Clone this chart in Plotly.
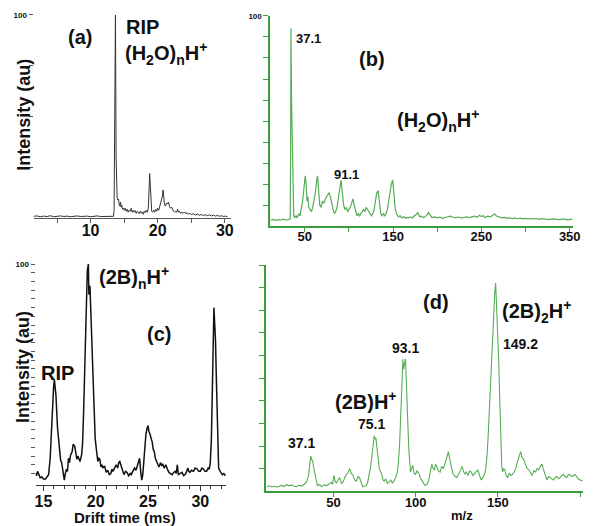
import plotly.graph_objects as go

W, H = 600, 526

# ---- (a) IMS spectrum, water RIP ----
drift_a = [1.5, 2.0, 2.5, 3.0, 3.5, 4.0, 4.5, 5.0, 5.5, 6.0, 6.5, 7.0, 7.5, 8.0, 8.5,
           9.0, 9.5, 10.0, 10.5, 11.0, 11.5, 12.0, 12.5, 13.0, 13.4, 13.5, 13.6, 13.7,
           13.8, 13.85, 13.95, 14.05, 14.15, 14.25, 14.35, 14.45, 14.55, 14.65, 14.75,
           14.85, 15.0, 15.15, 15.3, 15.45, 15.6, 15.75, 15.9, 16.05, 16.2, 16.35, 16.5,
           16.65, 16.8, 16.95, 17.1, 17.25, 17.4, 17.55, 17.7, 17.85, 18.0, 18.15, 18.3,
           18.45, 18.6, 18.7, 18.8, 18.9, 19.0, 19.1, 19.25, 19.4, 19.55, 19.7, 19.85,
           20.0, 20.15, 20.3, 20.45, 20.6, 20.7, 20.8, 20.9, 21.0, 21.15, 21.3, 21.45,
           21.6, 21.75, 21.9, 22.05, 22.2, 22.35, 22.5, 22.65, 22.8, 22.95, 23.1, 23.25,
           23.4, 23.6, 23.8, 24.0, 24.2, 24.4, 24.6, 24.8, 25.0, 25.3, 25.6, 25.9, 26.2,
           26.5, 26.8, 27.1, 27.4, 27.7, 28.0, 28.3, 28.6, 28.9, 29.2, 29.5, 29.8, 30.1, 30.4]
int_a = [1.0, 1.2, 0.8, 1.1, 0.9, 1.3, 0.8, 1.0, 1.2, 0.9, 1.1, 0.8, 1.0, 1.2, 0.9,
         1.0, 1.1, 0.8, 1.0, 1.2, 0.9, 1.0, 1.1, 0.9, 1.0, 4, 60, 100,
         30, 13, 10, 9, 9.5, 7, 6, 8, 5.5, 6.5, 4.5,
         5, 4, 5, 3.5, 4.5, 3, 4, 3.5, 5, 3, 4, 3,
         3.8, 2.5, 3.5, 3, 2.2, 3.5, 2.5, 3.2, 2, 3.5, 2.8, 4,
         3, 5, 12, 22, 16, 6, 3.5, 3, 4, 3, 4.5, 3.5,
         5, 4, 6, 7, 9, 11, 14, 10, 7, 6, 7.5, 7,
         8, 6, 5, 5.5, 4, 3.5, 3, 3.5, 3, 4.5, 3, 3.5,
         2.5, 3, 2.5, 3.2, 2.3, 2.8, 2, 2.5, 1.8, 2.3, 1.6, 2.1, 1.5,
         1.9, 1.4, 1.8, 1.3, 1.7, 1.2, 1.6, 1.1, 1.5, 1.0, 1.3, 0.9, 1.1, 0.8]

# ---- (b) mass spectrum, water clusters ----
mz_b = [11, 14, 17, 20, 23, 26, 29, 32, 33.5, 34.0, 34.3, 34.7, 35.0, 35.5, 36.0, 36.5,
        37.0, 37.5, 38.5, 40, 41.5, 43, 44.5, 46, 47.5, 49, 50.5, 51.5, 52.5, 53.5, 54.5,
        56, 57.5, 59, 60.5, 62, 63.5, 64.5, 65.5, 67, 68.5, 70, 71.5, 73, 74.5, 76, 77.5,
        79, 80.5, 82, 83.5, 85, 86.5, 88, 89.5, 91, 92.5, 94, 95.5, 97, 98.5, 100, 101.5,
        103, 104.5, 106, 107.5, 109, 110.5, 112, 113.5, 115, 116.5, 118, 119.5, 121, 122.5,
        124, 125.5, 127, 128.5, 130, 131.5, 133, 134.5, 136, 137.5, 139, 140.5, 142, 143.5,
        145, 146.5, 148, 149.5, 151, 152.5, 154, 156, 158, 160, 162, 164, 166, 168, 170,
        172, 174, 176, 178, 180, 182, 184, 186, 188, 190, 192, 194, 197, 200, 203, 206,
        209, 212, 215, 218, 221, 224, 227, 230, 233, 236, 239, 242, 245, 248, 250, 252,
        254, 257, 260, 263, 265, 267, 270, 273, 276, 279, 282, 285, 288, 291, 294, 297,
        300, 303, 306, 309, 312, 315, 318, 321, 324, 327, 330, 333, 336, 339, 342, 345,
        348, 351, 353]
int_b = [3.0, 3.3, 2.8, 3.2, 3.0, 3.4, 2.9, 3.2, 3.5, 40, 94, 75, 60, 47, 34, 18,
         8, 5, 4, 5, 4, 6, 5, 8, 12, 18, 24, 20, 12, 14, 9,
         8, 7, 9, 12, 16, 22, 24, 18, 10, 9, 12, 11, 13, 14, 15, 16,
         14, 10, 8, 6, 7, 9, 13, 19, 22, 16, 10, 8, 9, 7, 8, 9,
         11, 13, 10, 7, 5, 6, 5, 6, 7, 8, 7, 9, 8, 7,
         6, 5, 6, 8, 12, 16, 17, 12, 6, 5, 6, 5, 6, 8,
         12, 17, 20, 22, 16, 8, 6, 4.5, 5, 4, 4.5, 3.8, 4.2, 4, 4.5,
         4, 5, 5.5, 6.5, 4.5, 4.8, 4.2, 4.5, 5.2, 6.5, 5, 4.2, 4.5, 4, 4.3, 3.8,
         4.2, 4.4, 4.8, 4.3, 4.1, 4.4, 3.9, 4.2, 4.5, 4.1, 4.4, 4.8, 4.3, 5.2, 4.6, 5,
         4.2, 4.8, 4.5, 5.2, 5.8, 4.9, 4.3, 4, 4.2, 3.8, 4, 3.7, 4, 3.6, 3.9, 3.5,
         3.8, 3.5, 3.7, 3.4, 3.7, 3.3, 3.6, 3.4, 3.5, 3.2, 3.5, 3.3, 3.4, 3.2, 3.5, 3.3,
         3.1, 3.4, 3.2]

# ---- (c) IMS spectrum with analyte ----
drift_c = [14.25, 14.35, 14.45, 14.55, 14.7, 14.85, 15.0, 15.2, 15.35, 15.5, 15.65, 15.8,
           15.97, 16.05, 16.12, 16.2, 16.35, 16.55, 16.65, 16.75, 16.9, 17.0, 17.1, 17.2,
           17.3, 17.4, 17.5, 17.6, 17.75, 17.85, 18.0, 18.1, 18.2, 18.3, 18.4, 18.5, 18.65,
           18.75, 18.85, 18.95, 19.05, 19.15, 19.2, 19.3, 19.35, 19.45, 19.55, 19.7, 19.85,
           19.95, 20.1, 20.2, 20.3, 20.4, 20.5, 20.6, 20.7, 20.85, 21.0, 21.15, 21.3, 21.45,
           21.55, 21.65, 21.8, 21.96, 22.1, 22.2, 22.3, 22.4, 22.5, 22.6, 22.7, 22.85, 23.0,
           23.15, 23.3, 23.4, 23.55, 23.7, 23.85, 24.0, 24.1, 24.2, 24.3, 24.4, 24.5, 24.6,
           24.7, 24.8, 24.9, 25.0, 25.1, 25.2, 25.3, 25.4, 25.5, 25.6, 25.7, 25.8, 25.95,
           26.05, 26.2, 26.3, 26.4, 26.55, 26.7, 26.85, 27.0, 27.15, 27.3, 27.45, 27.6, 27.7,
           27.8, 27.9, 28.05, 28.25, 28.4, 28.55, 28.7, 28.8, 28.9, 29.0, 29.15, 29.35, 29.5,
           29.7, 29.85, 30.0, 30.15, 30.3, 30.45, 30.6, 30.75, 30.85, 30.95, 31.05, 31.12,
           31.2, 31.25, 31.3, 31.38, 31.45, 31.52, 31.6, 31.68, 31.75, 31.9, 32.0, 32.1,
           32.25, 32.4]
int_c = [4, 3, 5, 3.5, 2, 2.5, 1.5, 1.5, 2.5, 3.5, 11, 30,
         43, 47, 44, 40, 25, 12, 10, 9, 4.5, 1, 4, 6,
         5, 11, 9, 12.5, 14, 17.5, 16.5, 13, 10.5, 12, 11, 9.5, 12.5,
         18, 33, 52, 71, 90, 97, 100, 86, 90, 78, 57, 34,
         20, 12.5, 9.5, 11, 10.5, 7, 8, 6.5, 7.5, 4.5, 5.5, 3.5, 4,
         6, 5, 6.5, 8, 6.5, 9, 9.5, 8, 6.5, 5, 3.5, 5, 4.5,
         3, 4, 3.5, 5, 6.5, 5.5, 8, 9, 11, 5, 1, 3.5, 10,
         18.5, 22, 24.5, 26, 23, 22, 20, 18.5, 15, 14, 11, 9.5, 8,
         7, 9, 7.5, 8.5, 6.5, 8, 6, 4.5, 4, 3.5, 4.5, 5, 4,
         8, 3.5, 4, 4.5, 3, 3.5, 5, 6.5, 5, 4.5, 5.5, 5, 6.5,
         6, 5, 5, 6.5, 6, 5, 5, 6.5, 6, 9, 18.5, 35,
         57, 70, 80, 72, 65, 50, 34, 15, 6.5, 5, 4, 3.5,
         4, 3]

# ---- (d) mass spectrum with analyte ----
mz_d = [9.5, 11, 12.5, 14, 15.5, 17, 18.5, 20, 21.5, 23, 24.5, 26, 27.5, 29, 30.5, 32,
        33.5, 34.8, 35.5, 36.2, 36.8, 37.4, 38.1, 38.8, 39.5, 40.2, 41.5, 42.8, 44.3, 45.8,
        47.3, 48.8, 49.5, 50.2, 51, 51.8, 52.8, 53.8, 54.8, 55.8, 56.8, 57.8, 58.8, 59.8,
        60.8, 61.8, 62.8, 63.8, 64.8, 65.8, 66.8, 67.8, 68.8, 69.8, 70.8, 71.8, 72.6, 73.4,
        74.1, 74.8, 75.3, 75.8, 76.3, 76.8, 77.3, 77.8, 78.6, 79.4, 80.1, 80.8, 81.8, 82.8,
        83.8, 84.8, 85.8, 86.8, 87.8, 88.8, 89.5, 90.2, 90.8, 91.4, 92.2, 92.6, 93.0, 93.4,
        93.8, 94.2, 94.6, 95.2, 95.8, 96.3, 96.8, 97.5, 98.2, 99, 99.8, 100.8, 101.8, 102.8,
        103.8, 104.8, 105.8, 106.8, 107.8, 108.8, 109.8, 110.6, 111.4, 112.1, 112.8, 113.8,
        114.8, 115.8, 116.8, 117.8, 118.8, 119.8, 120.4, 121.0, 121.9, 122.8, 123.8, 124.8,
        125.8, 126.8, 127.5, 128.2, 129, 129.8, 130.8, 131.8, 132.8, 133.8, 134.8, 135.8,
        136.8, 137.8, 138.8, 139.8, 140.8, 141.8, 142.6, 143.4, 144.1, 144.8, 145.5, 146.2,
        146.8, 147.4, 148.0, 148.6, 149.0, 149.4, 149.8, 150.2, 150.6, 151.0, 151.4, 151.8,
        152.3, 152.8, 153.5, 154.2, 155, 155.8, 156.8, 157.8, 158.8, 159.8, 160.8, 161.8,
        162.8, 163.8, 164.6, 165.4, 166.1, 166.8, 167.8, 168.8, 169.8, 170.8, 171.8, 172.8,
        173.8, 174.8, 175.8, 176.8, 177.5, 178.2, 179, 179.8, 180.8, 181.8, 182.8, 183.8,
        184.8, 185.8, 186.8, 187.8, 188.8, 189.8, 190.8, 191.8, 192.8, 193.8, 195.3, 196.8,
        197.8, 198.8, 200, 201.5]
int_d = [2, 2.4, 1.9, 2.3, 1.8, 2.2, 2.6, 2.1, 3, 2.4, 2.8, 2.2, 2, 2.6, 2.3, 3,
         4, 7, 12, 15.5, 14, 13, 10, 7, 4, 2.5, 3, 2, 2.8, 2.5,
         3.2, 4, 3, 7, 4.5, 3.5, 5, 6, 3.5, 4, 6, 7.5, 8, 10,
         8, 7, 5, 4.5, 6.5, 6, 4, 2, 2.2, 2.5, 4, 7.5, 11, 16,
         21, 24.5, 23, 23.5, 20, 17.5, 14, 10, 9, 7.5, 5, 4.5, 5.5, 3.5,
         4, 5, 3.5, 5, 6, 8.5, 13, 21, 34, 47.5, 58.5, 54, 55, 57,
         58.5, 52, 43, 30, 18.5, 12, 8.5, 10, 11.5, 8, 7.5, 9, 8, 6,
         4.5, 3.5, 2.5, 3, 4.5, 8, 12, 10, 9.5, 12, 11, 9,
         8.5, 11, 10, 12, 14.5, 17.5, 15, 12, 10, 7.5, 6.5, 6,
         7, 8.5, 10, 11, 9, 7.5, 8.5, 7, 9, 8.5, 7, 8,
         9, 9.5, 7, 5, 6, 7.5, 10, 16, 25, 36, 48, 61,
         72, 80, 87, 92, 86, 80, 70, 66, 55, 43, 30, 18.5,
         11, 8.5, 10, 9.5, 7, 6, 8, 7, 7.5, 8.5, 10, 13,
         15, 17.5, 15, 14.5, 13, 12, 10, 9.5, 8, 7, 9, 8.5,
         10, 9.5, 11, 12, 10, 8.5, 6.5, 5, 6.5, 6, 5.5, 5,
         6, 6.5, 5.5, 6, 7, 7.5, 6.5, 6, 7.5, 7, 6.5, 7.5,
         6.5, 5.5, 5, 4.5]

FONT = "Arial, Liberation Sans, sans-serif"
GREEN_AX = "#3a9d3a"
GREEN_LN = "#55ad55"


def px_x(px):
    return px / W


def px_y(py):
    return 1 - py / H


fig = go.Figure()
fig.add_trace(go.Scatter(x=drift_a, y=int_a, mode="lines", line=dict(color="#333", width=1),
                         xaxis="x", yaxis="y"))
fig.add_trace(go.Scatter(x=mz_b, y=int_b, mode="lines", line=dict(color=GREEN_LN, width=1.2),
                         xaxis="x2", yaxis="y2"))
fig.add_trace(go.Scatter(x=drift_c, y=int_c, mode="lines", line=dict(color="#111", width=1.5),
                         xaxis="x3", yaxis="y3"))
fig.add_trace(go.Scatter(x=mz_d, y=int_d, mode="lines", line=dict(color=GREEN_LN, width=1.1),
                         xaxis="x4", yaxis="y4"))

tick_small = dict(family=FONT, size=8, color="#111", weight="bold")

fig.update_layout(
    width=W, height=H, margin=dict(l=0, r=0, t=0, b=0),
    paper_bgcolor="white", plot_bgcolor="white", showlegend=False,
    font=dict(family=FONT, color="#111"),
    # (a)
    xaxis=dict(domain=[px_x(33), px_x(233)], range=[1.5, 30.9], anchor="y",
               showline=True, linecolor="#555", linewidth=1, showgrid=False, zeroline=False,
               ticks="outside", ticklen=4, tickcolor="#555", ticklabelstandoff=-7,
               tickvals=[5, 10, 15, 20, 25, 30], ticktext=["", "10", "", "20", "", "30"],
               tickfont=dict(family=FONT, size=16, weight="bold")),
    yaxis=dict(domain=[px_y(216), px_y(11)], range=[0, 100], anchor="x",
               showline=False, showgrid=False, zeroline=False,
               ticks="outside", ticklen=4, tickcolor="#555",
               tickvals=[25, 50, 75, 100], ticktext=["", "", "", "100"], tickfont=tick_small),
    # (b)
    xaxis2=dict(domain=[px_x(273), px_x(580)], range=[11, 354], anchor="y2",
                showline=True, linecolor=GREEN_AX, linewidth=2, showgrid=False, zeroline=False,
                ticks="outside", ticklen=4, tickcolor=GREEN_AX, ticklabelstandoff=-7,
                tickvals=[50, 100, 150, 200, 250, 300, 350],
                ticktext=["50", "", "150", "", "250", "", "350"],
                tickfont=dict(family=FONT, size=13, weight="bold")),
    yaxis2=dict(domain=[px_y(224), px_y(12)], range=[0, 100], anchor="x2",
                showline=True, linecolor=GREEN_AX, linewidth=2, showgrid=False, zeroline=False,
                ticks="outside", ticklen=5, tickcolor=GREEN_AX,
                tickvals=[10, 20, 30, 40, 50, 60, 70, 80, 90, 100],
                ticktext=["", "", "", "", "", "", "", "", "", "100"], tickfont=tick_small),
    # (c)
    xaxis3=dict(domain=[px_x(35), px_x(228)], range=[14.25, 32.45], anchor="y3",
                showline=True, linecolor="#333", linewidth=1, showgrid=False, zeroline=False,
                ticks="outside", ticklen=5, tickcolor="#333", ticklabelstandoff=-4,
                tickvals=[15, 20, 25, 30], ticktext=["15", "20", "25", "30"],
                minor=dict(dtick=1, ticklen=3, tickcolor="#333", ticks="outside"),
                tickfont=dict(family=FONT, size=16, weight="bold")),
    yaxis3=dict(domain=[px_y(485), px_y(262)], range=[-1.4, 100], anchor="x3",
                showline=False, showgrid=False, zeroline=False,
                ticks="outside", ticklen=4, tickcolor="#555",
                tickvals=[100], ticktext=["100"], tickfont=tick_small,
                minor=dict(tickvals=[4, 8, 12, 16, 20, 24, 28, 32, 36, 40, 44, 48, 52, 56,
                                     60, 64, 68, 72, 76, 80, 84, 88, 92, 96],
                           ticklen=4, tickcolor="#555", ticks="outside")),
    # (d)
    xaxis4=dict(domain=[px_x(269), px_x(590)], range=[9.2, 201.8], anchor="y4",
                showline=True, linecolor=GREEN_AX, linewidth=2, showgrid=False, zeroline=False,
                ticks="outside", ticklen=4, tickcolor=GREEN_AX, ticklabelstandoff=-6,
                tickvals=[50, 100, 150, 200], ticktext=["50", "100", "150", ""],
                tickfont=dict(family=FONT, size=13, weight="bold")),
    yaxis4=dict(domain=[px_y(491), px_y(263)], range=[0, 100], anchor="x4",
                showline=True, linecolor=GREEN_AX, linewidth=2, showgrid=False, zeroline=False,
                ticks="outside", ticklen=5, tickcolor=GREEN_AX,
                tickvals=[10, 20, 30, 40, 50, 60, 70, 80, 90, 100], showticklabels=False),
)

notes = [
    # (text, px x, px y, size, xanchor, angle)
    ("(a)", 80, 33, 20, "center", 0),
    ("RIP", 125, 23, 20, "left", 0),
    ("(H<sub>2</sub>O)<sub>n</sub>H<sup>+</sup>", 124, 50, 20, "left", 0),
    ("Intensity (au)", 23, 112, 18, "center", -90),
    ("37.1", 312, 35, 13, "center", 0),
    ("(b)", 376, 55, 20, "center", 0),
    ("(H<sub>2</sub>O)<sub>n</sub>H<sup>+</sup>", 443, 117, 20, "center", 0),
    ("91.1", 350, 172, 13, "center", 0),
    ("(2B)<sub>n</sub>H<sup>+</sup>", 97, 276, 20, "left", 0),
    ("(c)", 160, 333, 20, "center", 0),
    ("RIP", 57, 372, 20, "center", 0),
    ("Intensity (au)", 23, 366, 18, "center", -90),
    ("Drift time (ms)", 126, 517, 15, "center", 0),
    ("(d)", 441, 300, 20, "center", 0),
    ("(2B)<sub>2</sub>H<sup>+</sup>", 506, 310, 20, "left", 0),
    ("149.2", 507, 343, 14, "left", 0),
    ("93.1", 410, 347, 14, "center", 0),
    ("(2B)H<sup>+</sup>", 370, 400, 20, "center", 0),
    ("75.1", 375, 423, 14, "center", 0),
    ("37.1", 305, 442, 14, "center", 0),
    ("m/z", 467, 515, 13, "center", 0),
]
for text, x, y, size, xa, ang in notes:
    fig.add_annotation(text="<b>" + text + "</b>", x=px_x(x), y=px_y(y), xref="paper", yref="paper",
                       xanchor=xa, yanchor="middle", textangle=ang, showarrow=False,
                       font=dict(family=FONT, size=size, color="#111", weight="bold"))

# drop the browser's default 8px body margin so the figure sits at the page corner
fig.write_html("out.html", config={"displayModeBar": False},
               post_script="document.body.style.margin='0';")
